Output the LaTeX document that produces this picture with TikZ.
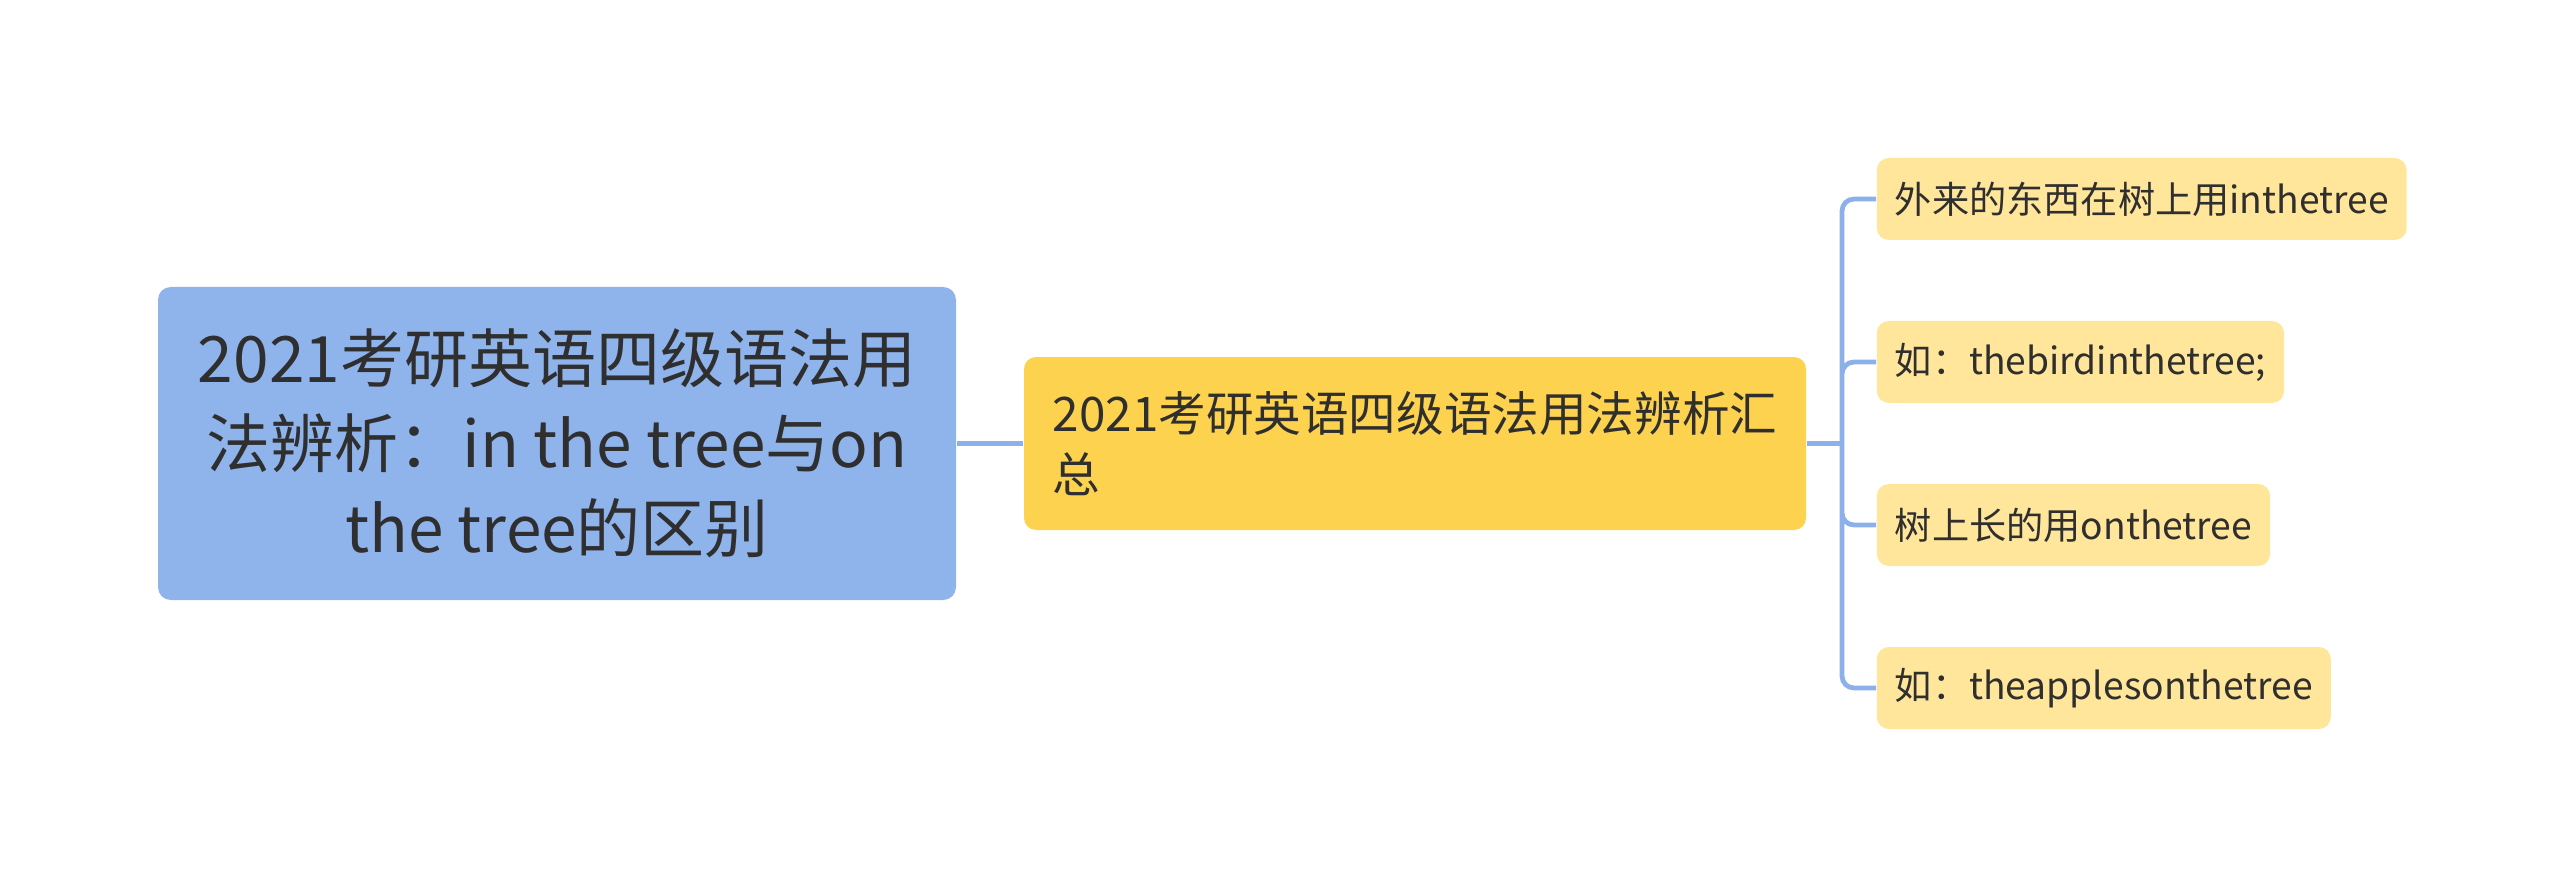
\documentclass[tikz,border=0pt]{standalone}
\usepackage{fontspec}
\newfontfamily\cjk{Noto Sans CJK SC}
\usepackage{tikz}
\definecolor{rootblue}{HTML}{8FB3EB}
\definecolor{midyellow}{HTML}{FDD24E}
\definecolor{leafyellow}{HTML}{FFE69A}
\definecolor{linkblue}{HTML}{8CB0EA}
\definecolor{inkgrey}{HTML}{2F2F2F}

\begin{document}
\begin{tikzpicture}[x=0.25pt,y=-0.25pt,
    rootbox/.style={fill=rootblue,rounded corners=3.2pt,inner sep=0pt,
      minimum width=199.5pt,minimum height=78.25pt,align=center,text=inkgrey,
      font=\cjk\fontsize{16}{21.25}\selectfont},
    midbox/.style={fill=midyellow,rounded corners=3pt,inner sep=0pt,
      minimum width=195.5pt,minimum height=43.25pt,align=left,text=inkgrey,
      font=\cjk\fontsize{11.9}{15.2}\selectfont},
    leafbox/.style={fill=leafyellow,rounded corners=3pt,inner xsep=4.5pt,inner ysep=0pt,
      minimum height=20.5pt,anchor=west,text=inkgrey,
      font=\cjk\fontsize{9.3}{12}\selectfont},
    link/.style={draw=linkblue,line width=1.2pt}]
    \useasboundingbox (0,0) rectangle (2560,888);

    \node (root) at (557,443.5) [rootbox] {2021考研英语四级语法用\\法辨析：in the tree与on\\the tree的区别};
    \node (mid) at (1415,443.5) [midbox] {2021考研英语四级语法用法辨析汇\\总};

    \node (leafA) at (1876,199) [leafbox] {外来的东西在树上用inthetree};
    \node (leafB) at (1876,362) [leafbox] {如：thebirdinthetree;};
    \node (leafC) at (1876,525) [leafbox] {树上长的用onthetree};
    \node (leafD) at (1876,688) [leafbox] {如：theapplesonthetree};

    \coordinate (fork) at (1842,443.5);

    \draw[link]
    (root) -- (mid)
    (mid) -- (fork);

    \draw[link,rounded corners=3pt]
    (fork) |- (leafA.west)
    (fork) |- (leafB.west)
    (fork) |- (leafC.west)
    (fork) |- (leafD.west);
  \end{tikzpicture}
\end{document}
